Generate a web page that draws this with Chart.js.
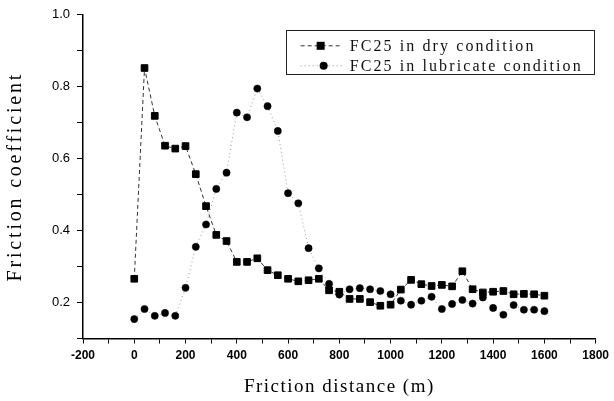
<!DOCTYPE html>
<html><head><meta charset="utf-8">
<script src="https://cdn.jsdelivr.net/npm/chart.js@4.4.1/dist/chart.umd.min.js"></script>
<style>html,body{margin:0;padding:0;background:#fff}#wrap{width:614px;height:401px}</style>
</head><body><div id="wrap"><canvas id="c" width="614" height="401"></canvas></div>
<script>
const distances = [0,40,80,120,160,200,240,280,320,360,400,440,480,520,560,600,640,680,720,760,800,840,880,920,960,1000,1040,1080,1120,1160,1200,1240,1280,1320,1360,1400,1440,1480,1520,1560,1600];
const dryValues = [0.266,0.852,0.719,0.636,0.628,0.635,0.557,0.468,0.388,0.371,0.313,0.313,0.323,0.290,0.276,0.266,0.259,0.262,0.266,0.234,0.230,0.210,0.210,0.201,0.191,0.194,0.236,0.263,0.251,0.246,0.249,0.245,0.287,0.237,0.228,0.230,0.232,0.223,0.224,0.223,0.219];
const lubricatedValues = [0.154,0.182,0.163,0.171,0.163,0.241,0.355,0.417,0.516,0.561,0.728,0.715,0.795,0.746,0.677,0.504,0.476,0.351,0.295,0.252,0.222,0.237,0.240,0.237,0.232,0.223,0.205,0.194,0.205,0.216,0.182,0.196,0.207,0.197,0.214,0.185,0.166,0.193,0.180,0.180,0.176];
const seriesNames = ['FC25 in dry condition','FC25 in lubricate condition'];
const xTickLabels = [-200,0,200,400,600,800,1000,1200,1400,1600,1800];
const yTickLabels = [0.2,0.4,0.6,0.8,1.0];
const xTitle = 'Friction distance (m)';
const yTitle = 'Friction coefficient';

const toXY = vals => distances.map((d,i)=>({x:d,y:vals[i]}));

const titleSpacing = {
  id:'titleSpacing',
  beforeDraw(chart){
    [['x','1.5px'],['y','2.8px']].forEach(([id,sp])=>{
      const s = chart.scales[id];
      if (s && !s._spPatched){
        const orig = s.drawTitle.bind(s);
        s.drawTitle = function(){ const ctx=this.ctx; ctx.save(); ctx.letterSpacing=sp; orig(); ctx.restore(); };
        s._spPatched = true;
      }
    });
  }
};

const boxLegend = {
  id:'boxLegend',
  afterDraw(chart){
    const ctx = chart.ctx, a = chart.chartArea;
    const right = a.right - 2, left = right - 308, top = a.top + 15, h = 44;
    ctx.save();
    ctx.strokeStyle = '#222'; ctx.lineWidth = 1;
    ctx.strokeRect(Math.round(left)+0.5, Math.round(top)+0.5, 308, h);
    const rows = [top+16, top+36];
    chart.data.datasets.forEach((ds,i)=>{
      const y = rows[i];
      ctx.save();
      ctx.strokeStyle = ds.borderColor; ctx.lineWidth = 1; ctx.setLineDash(ds.borderDash||[]);
      ctx.beginPath(); ctx.moveTo(left+15,y); ctx.lineTo(left+57,y); ctx.stroke();
      ctx.restore();
      ctx.fillStyle = '#000';
      const cx = left + 35;
      if (ds.pointStyle === 'rect'){ ctx.fillRect(cx-4, y-4, 8, 8); }
      else { ctx.beginPath(); ctx.arc(cx+3, y, 4, 0, Math.PI*2); ctx.fill(); }
      ctx.save();
      ctx.letterSpacing = '2.1px';
      ctx.font = '16px "Liberation Serif"';
      ctx.fillStyle = '#111'; ctx.textBaseline = 'middle'; ctx.textAlign = 'left';
      ctx.fillText(ds.label, left + 64, y + 1);
      ctx.restore();
    });
    ctx.restore();
  }
};

new Chart(document.getElementById('c'), {
  type:'scatter',
  data:{ datasets:[
    { label:seriesNames[0], data:toXY(dryValues), showLine:true, borderColor:'#333', borderWidth:1, borderDash:[4,3],
      pointStyle:'rect', pointRadius:4.7, pointBackgroundColor:'#000', pointBorderColor:'#000', pointBorderWidth:1, tension:0 },
    { label:seriesNames[1], data:toXY(lubricatedValues), showLine:true, borderColor:'#999', borderWidth:1, borderDash:[1,3],
      pointStyle:'circle', pointRadius:3.6, pointBackgroundColor:'#000', pointBorderColor:'#000', pointBorderWidth:0.5, tension:0 }
  ]},
  options:{
    responsive:false, animation:false, devicePixelRatio:1,
    layout:{ padding:{ left:0, right:17, top:12, bottom:0 } },
    plugins:{ legend:{display:false}, tooltip:{enabled:false} },
    scales:{
      x:{ type:'linear', min:-200, max:1800,
        afterFit(s){ s.height = 62.5; },
        ticks:{ stepSize:100, autoSkip:false, maxRotation:0, padding:5, color:'#000',
          font:{ family:'"Liberation Sans", Arial, sans-serif', size:12, weight:'bold' },
          callback:(v)=> xTickLabels.includes(Math.round(v)) ? String(Math.round(v)) : '' },
        grid:{ drawOnChartArea:false, drawTicks:true, tickLength:5, tickColor:'#000', tickWidth:1 },
        border:{ color:'#000', width:1.5 },
        title:{ display:true, text:xTitle, color:'#000', font:{ family:'"Liberation Serif", serif', size:19 }, padding:{top:2,bottom:3} }
      },
      y:{ type:'linear', min:0.1, max:1.0,
        afterFit(s){ s.width = 83; },
        ticks:{ stepSize:0.1, autoSkip:false, padding:7, color:'#000',
          font:{ family:'"Liberation Sans", Arial, sans-serif', size:13 },
          callback:(v)=>{ const r = Math.round(v*10)/10; return yTickLabels.some(t=>Math.abs(t-r)<1e-9) ? r.toFixed(1) : ''; } },
        grid:{ drawOnChartArea:false, drawTicks:true, tickLength:6, tickColor:'#000', tickWidth:1 },
        border:{ color:'#000', width:1.5 },
        title:{ display:true, text:yTitle, color:'#000', font:{ family:'"Liberation Serif", serif', size:20 }, padding:{top:4,bottom:2} }
      }
    }
  },
  plugins:[titleSpacing, boxLegend]
});
</script></body></html>
